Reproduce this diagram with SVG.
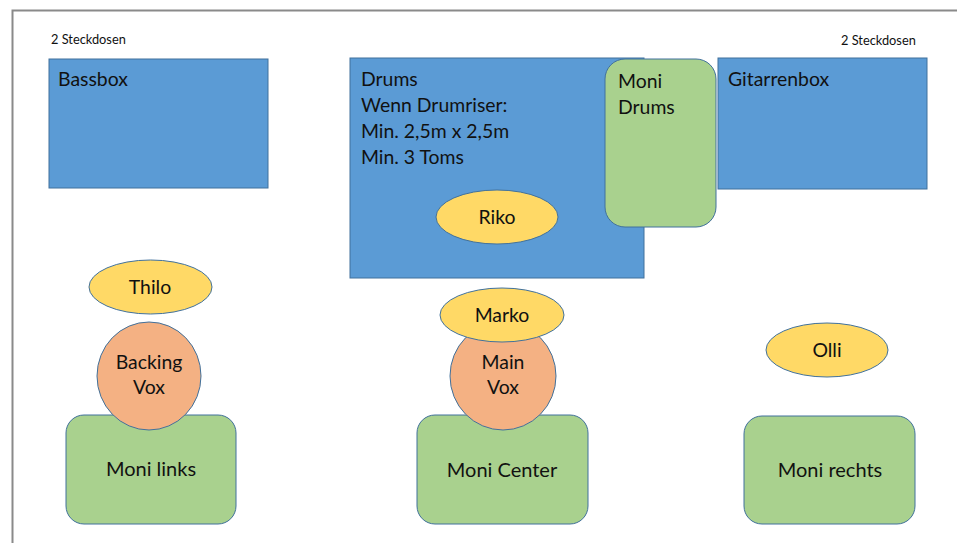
<svg xmlns="http://www.w3.org/2000/svg" width="957" height="543" viewBox="0 0 957 543">
<style>
.blue{fill:#5B9BD5;stroke:#41719C;stroke-width:1}
.green{fill:#A9D18E;stroke:#41719C;stroke-width:1}
.yellow{fill:#FFD966;stroke:#41719C;stroke-width:1}
.orange{fill:#F4B183;stroke:#41719C;stroke-width:1}
text{font-family:Lato,"Open Sans",sans-serif;fill:#111}
.m{font-size:19.4px}
.l{font-size:20px}
.s{font-size:12.8px}
.c{text-anchor:middle}
</style>
<rect width="957" height="543" fill="#fff"/>
<path d="M12.5,543 V10.5 H957" fill="none" stroke="#8a8a8a" stroke-width="2"/>
<g id="steckdosen-links"><text class="s" x="51" y="44">2 Steckdosen</text></g>
<g id="steckdosen-rechts"><text class="s" x="841" y="45">2 Steckdosen</text></g>
<g id="bassbox"><rect class="blue" x="49" y="59" width="219" height="129"/><text class="m" x="58" y="86">Bassbox</text></g>
<g id="drums"><rect class="blue" x="350" y="58" width="294" height="220"/>
<text class="m" x="361" y="86">Drums</text>
<text class="m" x="361" y="112">Wenn Drumriser:</text>
<text class="m" x="361" y="138">Min. 2,5m x 2,5m</text>
<text class="m" x="361" y="164">Min. 3 Toms</text></g>
<g id="moni-drums"><rect class="green" x="605" y="59" width="111" height="168" rx="20"/>
<text class="m" x="618" y="88">Moni</text><text class="m" x="618" y="114">Drums</text></g>
<g id="riko"><ellipse class="yellow" cx="497" cy="217" rx="61" ry="27"/><text class="m c" x="497" y="224">Riko</text></g>
<g id="gitarrenbox"><rect class="blue" x="718" y="58" width="209" height="131"/><text class="m" x="728" y="86">Gitarrenbox</text></g>
<g id="thilo"><ellipse class="yellow" cx="150.5" cy="287" rx="61.5" ry="27"/><text class="m c" x="150" y="294">Thilo</text></g>
<g id="moni-links"><rect class="green" x="66" y="415" width="170" height="109" rx="18"/><text class="l c" x="151" y="476">Moni links</text></g>
<g id="backing-vox"><ellipse class="orange" cx="149" cy="376" rx="52" ry="54"/>
<text class="m c" x="149" y="369">Backing</text><text class="m c" x="149" y="394">Vox</text></g>
<g id="moni-center"><rect class="green" x="417" y="415" width="171" height="109" rx="18"/><text class="l c" x="502" y="477">Moni Center</text></g>
<g id="main-vox"><ellipse class="orange" cx="503" cy="376" rx="53" ry="54"/>
<text class="m c" x="503" y="369">Main</text><text class="m c" x="503" y="394">Vox</text></g>
<g id="marko"><ellipse class="yellow" cx="502" cy="315" rx="62" ry="27"/><text class="m c" x="502" y="322">Marko</text></g>
<g id="olli"><ellipse class="yellow" cx="827" cy="350" rx="61" ry="27"/><text class="m c" x="827" y="357">Olli</text></g>
<g id="moni-rechts"><rect class="green" x="744" y="416" width="171" height="108" rx="18"/><text class="l c" x="830" y="477">Moni rechts</text></g>
<g id="connectors"></g>
</svg>
